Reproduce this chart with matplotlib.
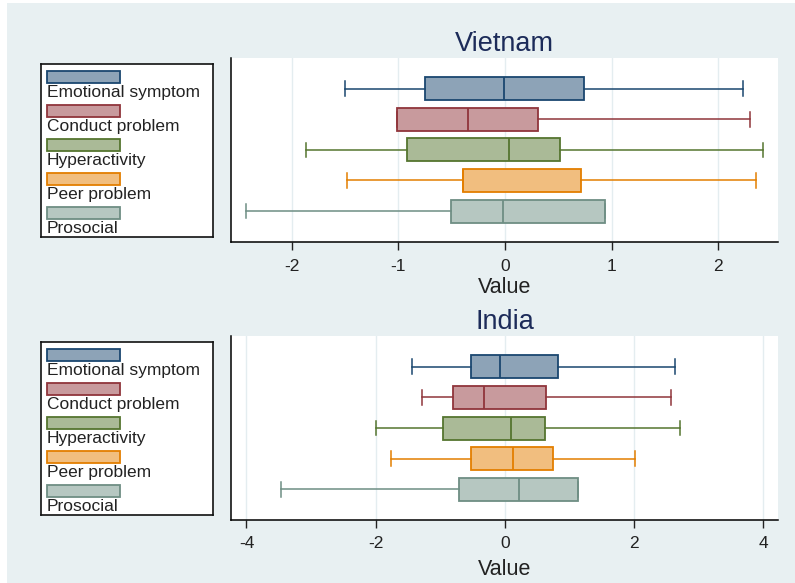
import matplotlib
matplotlib.use("Agg")
import matplotlib.pyplot as plt
from matplotlib.patches import Rectangle

plt.rcParams['font.family'] = ['Liberation Sans', 'DejaVu Sans']

# Data (box stats per subscale)
labels = ["Emotional symptom", "Conduct problem", "Hyperactivity", "Peer problem", "Prosocial"]

vn_whislo = [-1.50, -1.01, -1.87, -1.48, -2.43]
vn_q1 = [-0.75, -1.01, -0.92, -0.39, -0.51]
vn_med = [-0.01, -0.35, 0.04, -0.39, -0.02]
vn_q3 = [0.74, 0.31, 0.52, 0.71, 0.94]
vn_whishi = [2.23, 2.30, 2.42, 2.35, 0.94]

in_whislo = [-1.43, -1.28, -1.99, -1.77, -3.46]
in_q1 = [-0.52, -0.80, -0.95, -0.52, -0.71]
in_med = [-0.07, -0.32, 0.10, 0.12, 0.22]
in_q3 = [0.82, 0.64, 0.62, 0.74, 1.13]
in_whishi = [2.64, 2.57, 2.72, 2.01, 1.13]

line_colors = ['#1a476f', '#90353b', '#55752f', '#e37e00', '#6e8e84']
fill_colors = ['#8da3b7', '#c89a9d', '#aaba97', '#f1be7f', '#b6c7c1']

W, H = 795, 583
bg = '#e8f0f2'
fig = plt.figure(figsize=(W / 100, H / 100), dpi=100, facecolor='white')
fig.patches.append(Rectangle((7 / W, 0), 1, 1 - 3 / H, transform=fig.transFigure,
                             facecolor=bg, edgecolor='none', zorder=-1))


def px_axes(left, top, right, bottom):
    return fig.add_axes([left / W, 1 - bottom / H, (right - left) / W, (bottom - top) / H])


def panel(ax, title, whislo, q1, med, q3, whishi, xlim, ticks, tickpad, labelpad):
    stats = []
    for i in range(len(labels)):
        stats.append(dict(whislo=whislo[i], q1=q1[i], med=med[i], q3=q3[i],
                          whishi=whishi[i], fliers=[]))
    bp = ax.bxp(stats, positions=range(1, len(labels) + 1), widths=0.75, capwidths=0.48,
                orientation='horizontal', patch_artist=True, showfliers=False)
    for i in range(len(labels)):
        c = line_colors[i]
        bp['boxes'][i].set(facecolor=fill_colors[i], edgecolor=c, linewidth=1.3)
        bp['medians'][i].set(color=c, linewidth=1.3)
        for k in (2 * i, 2 * i + 1):
            bp['whiskers'][k].set(color=c, linewidth=1.1)
            bp['caps'][k].set(color=c, linewidth=1.1)
    ax.set_ylim(len(labels) + 1, 0)
    ax.set_xlim(*xlim)
    ax.set_xticks(ticks)
    ax.set_xticklabels([str(t) for t in ticks])
    ax.set_yticks([])
    ax.grid(axis='x', color='#e4edf0', linewidth=1)
    ax.set_axisbelow(True)
    ax.spines['top'].set_visible(False)
    ax.spines['right'].set_visible(False)
    ax.spines['left'].set_linewidth(1.1)
    ax.spines['bottom'].set_linewidth(1.1)
    ax.tick_params(axis='x', length=6, width=1, labelsize=12.5, pad=tickpad, colors='#222222')
    ax.set_xlabel('Value', fontsize=15.5, labelpad=labelpad, color='#222222')
    ax.set_title(title, fontsize=19.5, color='#1c2b59', pad=5)


def legend_box(left, top, right, bottom):
    lax = px_axes(left, top, right, bottom)
    lax.set_xlim(0, right - left)
    lax.set_ylim(bottom - top, 0)
    lax.set_xticks([])
    lax.set_yticks([])
    for s in lax.spines.values():
        s.set_linewidth(1.2)
        s.set_color('#111111')
    for i, lab in enumerate(labels):
        y0 = 6.5 + 34 * i
        lax.add_patch(Rectangle((6, y0), 73, 12, facecolor=fill_colors[i],
                                edgecolor=line_colors[i], linewidth=1.3))
        lax.text(6, y0 + 26.5, lab, fontsize=12.5, color='#222222', va='baseline', ha='left')


ax1 = px_axes(231, 58, 778, 241.7)
panel(ax1, 'Vietnam', vn_whislo, vn_q1, vn_med, vn_q3, vn_whishi,
      (-2.57, 2.56), [-2, -1, 0, 1, 2], 6.5, 2)
legend_box(41, 64, 213, 237)

ax2 = px_axes(231, 336, 778, 520)
panel(ax2, 'India', in_whislo, in_q1, in_med, in_q3, in_whishi,
      (-4.24, 4.23), [-4, -2, 0, 2, 4], 5.5, 6)
legend_box(41, 342, 213, 515)

fig.savefig('out.png', dpi=100, facecolor=fig.get_facecolor())
